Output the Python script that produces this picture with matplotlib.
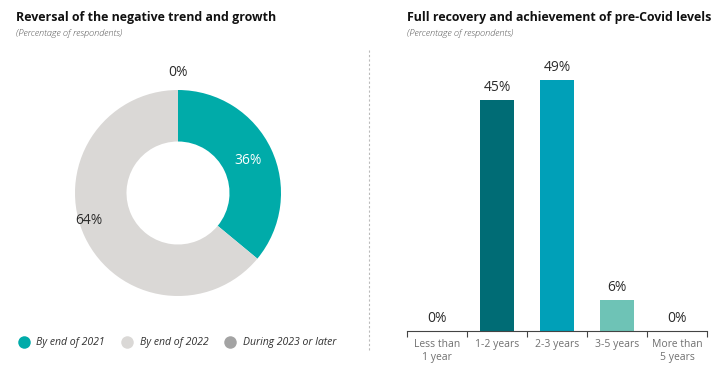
import os
import numpy as np
import matplotlib
matplotlib.use("Agg")
from matplotlib import pyplot as plt
from matplotlib.lines import Line2D
from matplotlib.font_manager import FontProperties

# data
donut_labels = ["By end of 2021", "By end of 2022", "During 2023 or later"]
donut_values = [36, 64, 0]
donut_colors = ["#00ABA9", "#DAD8D6", "#A3A3A3"]

bar_labels = ["Less than\n1 year", "1-2 years", "2-3 years", "3-5 years", "More than\n5 years"]
bar_values = [0, 45, 49, 6, 0]
bar_colors = ["#00ABA9", "#006C75", "#00A0B8", "#6EC3B6", "#A3A3A3"]

plt.rcParams["font.family"] = ["Open Sans", "DejaVu Sans"]


def font(fname, size, **kw):
    """ Font from file if present, else by family. """
    path = "/usr/share/fonts/truetype/open-sans/" + fname
    if os.path.exists(path):
        return FontProperties(fname=path, size=size)
    return FontProperties(family="Open Sans", size=size, **kw)


f_reg = lambda s: font("OpenSans-Regular.ttf", s)
f_ital = lambda s: font("OpenSans-Italic.ttf", s, style="italic")
f_lital = lambda s: font("OpenSans-LightItalic.ttf", s, style="italic")
f_bold = lambda s: font("OpenSans-Bold.ttf", s, weight="bold")

W, H = 728, 379
fig = plt.figure(figsize=(W / 100, H / 100), dpi=100)


def px_axes(x0, y0, x1, y1):
    """ Axes from pixel box (top-left origin). """
    return fig.add_axes([x0 / W, 1 - y1 / H, (x1 - x0) / W, (y1 - y0) / H])


# titles
for x0, title in ((16, "Reversal of the negative trend and growth"),
                  (407, "Full recovery and achievement of pre-Covid levels")):
    fig.text(x0 / W, 1 - 18 / H, title, fontproperties=f_bold(8.9),
             color="#111111", va="center")
    fig.text(x0 / W, 1 - 34 / H, "(Percentage of respondents)",
             fontproperties=f_lital(6.6), color="#555555", va="center")

# separator
fig.add_artist(Line2D([369 / W, 369 / W], [1 - 50 / H, 1 - 352 / H],
                      color="#BBBBBB", lw=0.8, linestyle=(0, (2, 2))))

# donut
cx, cy, R = 178, 193, 103
ax1 = px_axes(cx - R, cy - R, cx + R, cy + R)
wedges, _ = ax1.pie(donut_values, colors=donut_colors, startangle=90,
                    counterclock=False, radius=1,
                    wedgeprops=dict(width=0.5, linewidth=0))
ax1.set_xlim(-1, 1)
ax1.set_ylim(-1, 1)
ax1.set_aspect("equal")
ax1.axis("off")

label_dist = [0.75, 0.9, 1.17]
label_col = ["white", "#2B2B2B", "#2B2B2B"]
for w, v, d, c in zip(wedges, donut_values, label_dist, label_col):
    mid = np.deg2rad((w.theta1 + w.theta2) / 2)
    if v == 64:
        mid = np.deg2rad(197)
    ax1.text(d * np.cos(mid), d * np.sin(mid), f"{v}%", ha="center",
             va="center", fontproperties=f_reg(10.0), color=c,
             clip_on=False)

# legend
handles = [Line2D([], [], marker="o", linestyle="", markersize=9,
                  markerfacecolor=c, markeredgewidth=0) for c in donut_colors]
fig.legend(handles, donut_labels, loc="center left",
           bbox_to_anchor=(8 / W, 1 - 343 / H), ncol=3, frameon=False,
           prop=f_ital(7.6), handletextpad=0.58,
           columnspacing=1.5, handlelength=1.2, labelcolor="#333333")

# bars
ax2 = px_axes(407, 49, 707, 331)
x = np.arange(len(bar_values))
bars = ax2.bar(x, bar_values, width=0.57, color=bar_colors)
for b, v in zip(bars, bar_values):
    ax2.text(b.get_x() + b.get_width() / 2, v + 1.0, f"{v}%", ha="center",
             va="bottom", fontproperties=f_reg(10.0), color="#2B2B2B")
ax2.set_xlim(-0.5, len(bar_values) - 0.5)
ax2.set_ylim(0, 55)
for s in ("top", "right", "left"):
    ax2.spines[s].set_visible(False)
ax2.spines["bottom"].set_color("#444444")
ax2.spines["bottom"].set_linewidth(0.8)
ax2.set_yticks([])
ax2.set_xticks(x)
ax2.set_xticklabels(bar_labels, fontproperties=f_reg(7.5),
                    color="#707070", linespacing=1.25)
ax2.tick_params(axis="x", which="major", length=0, pad=6)
ax2.set_xticks(np.arange(len(bar_values) + 1) - 0.5, minor=True)
ax2.tick_params(axis="x", which="minor", length=4, width=0.8, color="#444444")

fig.savefig("out.png", dpi=100)
